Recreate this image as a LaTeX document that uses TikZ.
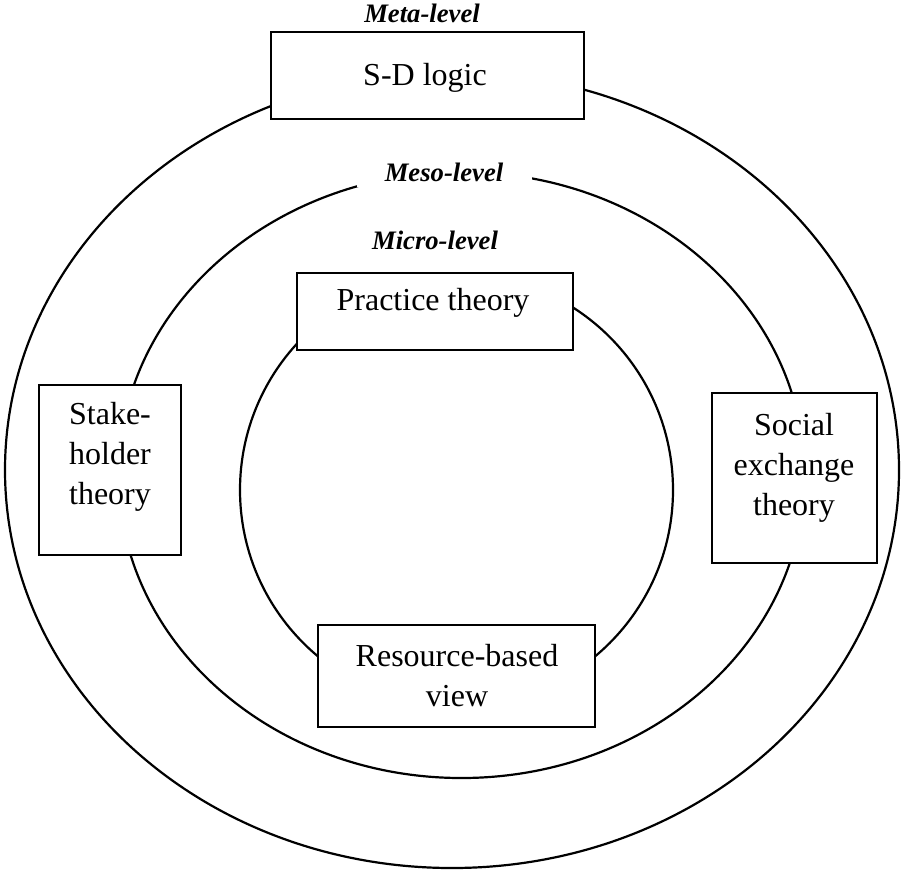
\documentclass[tikz,border=0pt]{standalone}
\usepackage{fontspec}
\setmainfont{Liberation Serif}
\begin{document}
\begin{tikzpicture}[x=0.75pt,y=-0.75pt,
  ring/.style={line width=1.65pt},
  box/.style={draw, line width=1.65pt, fill=white, inner sep=0pt},
  boxtext/.style={font=\fontsize{24pt}{30pt}\selectfont, align=center, inner sep=0pt},
  level/.style={font=\fontsize{20pt}{24pt}\selectfont\bfseries\itshape, inner sep=0pt}]
\useasboundingbox (0,0) rectangle (902,869);
% rings
\draw[ring] (452,470) ellipse [x radius=447, y radius=398];
\draw[ring] (461.5,475) ellipse [x radius=343, y radius=303];
\draw[ring] (456.5,490) circle [radius=216.5];
% gap label on the meso ring
\node[level, fill=white, minimum width=0.75pt*175, minimum height=0.75pt*30] (meso) at (444,172) {Meso-level};
\node[level] (meta) at (422,13) {Meta-level};
\node[level] (micro) at (435,240) {Micro-level};
% boxes
\node[box, minimum width=0.75pt*313, minimum height=0.75pt*87] (sd) at (427.5,75.5) {};
\node[box, minimum width=0.75pt*276, minimum height=0.75pt*77] (prac) at (435,311.5) {};
\node[box, minimum width=0.75pt*142, minimum height=0.75pt*170] (stake) at (110,470) {};
\node[box, minimum width=0.75pt*165, minimum height=0.75pt*170] (soc) at (794.5,478) {};
\node[box, minimum width=0.75pt*277, minimum height=0.75pt*102] (rbv) at (456.5,676) {};
% texts
\node[boxtext] (sdt) at (425,78) {S-D logic};
\node[boxtext] (pract) at (433,303) {Practice theory};
\node[boxtext] (staket) at (110,457) {Stake-\\holder\\theory};
\node[boxtext] (soct) at (794,468) {Social\\exchange\\theory};
\node[boxtext] (rbvt) at (457,676) {Resource-based\\view};
\end{tikzpicture}
\end{document}
